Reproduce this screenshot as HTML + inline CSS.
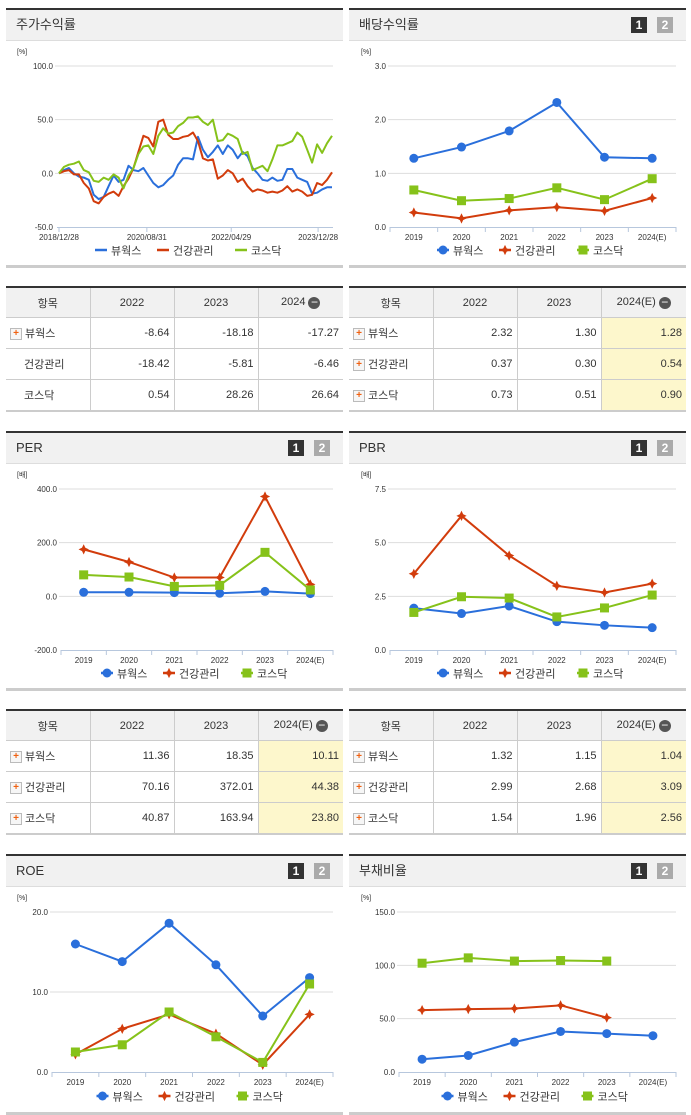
<!DOCTYPE html>
<html><head><meta charset="utf-8">
<style>
body{margin:0;width:691px;height:1115px;background:#fff;position:relative;overflow:hidden;font-family:"Liberation Sans","Noto Sans CJK KR",sans-serif;color:#333}
.panel{position:absolute;border-top:2px solid #333;box-sizing:border-box}
.phead{height:30px;background:#f1f1f1;border-bottom:1px solid #ddd;font-size:13px;line-height:30px;padding-left:10px;position:relative}
.pbot{position:absolute;left:0;right:0;height:3px;background:#ccc}
.b{position:absolute;top:7px;width:16px;height:16px;font-size:12px;font-weight:bold;color:#fff;text-align:center;line-height:16px}
table{position:absolute;border-collapse:collapse;border-top:2px solid #333;border-bottom:2px solid #ccc;font-size:11px;table-layout:fixed}
th{background:#f1f1f1;font-weight:normal;height:29px;padding:0;border-left:1px solid #ccc;border-bottom:1px solid #ccc}
td{height:30px;padding:0 4px 0 0;border-left:1px solid #ccc;border-bottom:1px solid #ccc;text-align:right}
th:first-child,td:first-child{border-left:none}
td:first-child{text-align:left;padding-left:4px}
td.y{background:#fdf7cc}
.plus{display:inline-block;width:10px;height:10px;border:1px solid #bbb;background:#f6f6f6;color:#f06010;font-size:10px;line-height:9px;text-align:center;font-weight:bold;vertical-align:middle;margin-right:3px}
.sp{display:inline-block;width:14px}
.minus{display:inline-block;width:12px;height:12px;border-radius:50%;background:#555;color:#fff;line-height:11px;text-align:center;font-size:12px;vertical-align:middle;margin-left:3px}
svg{position:absolute;left:0;top:0}
</style></head><body>

<div class="panel" style="left:6px;top:8px;width:337px;height:260px"><div class="phead">주가수익률</div><div class="pbot" style="top:255px"></div></div>
<div class="panel" style="left:349px;top:8px;width:337px;height:260px"><div class="phead">배당수익률<span class="b" style="left:282px;background:#333">1</span><span class="b" style="left:308px;background:#aaa">2</span></div><div class="pbot" style="top:255px"></div></div>

<div class="panel" style="left:6px;top:431px;width:337px;height:260px"><div class="phead">PER<span class="b" style="left:282px;background:#333">1</span><span class="b" style="left:308px;background:#aaa">2</span></div><div class="pbot" style="top:255px"></div></div>
<div class="panel" style="left:349px;top:431px;width:337px;height:260px"><div class="phead">PBR<span class="b" style="left:282px;background:#333">1</span><span class="b" style="left:308px;background:#aaa">2</span></div><div class="pbot" style="top:255px"></div></div>

<div class="panel" style="left:6px;top:854px;width:337px;height:261px"><div class="phead">ROE<span class="b" style="left:282px;background:#333">1</span><span class="b" style="left:308px;background:#aaa">2</span></div><div class="pbot" style="top:256px"></div></div>
<div class="panel" style="left:349px;top:854px;width:337px;height:261px"><div class="phead">부채비율<span class="b" style="left:282px;background:#333">1</span><span class="b" style="left:308px;background:#aaa">2</span></div><div class="pbot" style="top:256px"></div></div>

<table style="left:6px;top:286px;width:337px">
<colgroup><col style="width:84px"><col style="width:84px"><col style="width:84px"><col style="width:85px"></colgroup>
<tr><th>항목</th><th>2022</th><th>2023</th><th>2024<span class="minus">−</span></th></tr>
<tr><td><span class="plus">+</span>뷰웍스</td><td>-8.64</td><td>-18.18</td><td>-17.27</td></tr>
<tr><td><span class="sp"></span>건강관리</td><td>-18.42</td><td>-5.81</td><td>-6.46</td></tr>
<tr><td><span class="sp"></span>코스닥</td><td>0.54</td><td>28.26</td><td>26.64</td></tr>
</table>
<table style="left:349px;top:286px;width:337px">
<colgroup><col style="width:84px"><col style="width:84px"><col style="width:84px"><col style="width:85px"></colgroup>
<tr><th>항목</th><th>2022</th><th>2023</th><th>2024(E)<span class="minus">−</span></th></tr>
<tr><td><span class="plus">+</span>뷰웍스</td><td>2.32</td><td>1.30</td><td class="y">1.28</td></tr>
<tr><td><span class="plus">+</span>건강관리</td><td>0.37</td><td>0.30</td><td class="y">0.54</td></tr>
<tr><td><span class="plus">+</span>코스닥</td><td>0.73</td><td>0.51</td><td class="y">0.90</td></tr>
</table>
<table style="left:6px;top:709px;width:337px">
<colgroup><col style="width:84px"><col style="width:84px"><col style="width:84px"><col style="width:85px"></colgroup>
<tr><th>항목</th><th>2022</th><th>2023</th><th>2024(E)<span class="minus">−</span></th></tr>
<tr><td><span class="plus">+</span>뷰웍스</td><td>11.36</td><td>18.35</td><td class="y">10.11</td></tr>
<tr><td><span class="plus">+</span>건강관리</td><td>70.16</td><td>372.01</td><td class="y">44.38</td></tr>
<tr><td><span class="plus">+</span>코스닥</td><td>40.87</td><td>163.94</td><td class="y">23.80</td></tr>
</table>
<table style="left:349px;top:709px;width:337px">
<colgroup><col style="width:84px"><col style="width:84px"><col style="width:84px"><col style="width:85px"></colgroup>
<tr><th>항목</th><th>2022</th><th>2023</th><th>2024(E)<span class="minus">−</span></th></tr>
<tr><td><span class="plus">+</span>뷰웍스</td><td>1.32</td><td>1.15</td><td class="y">1.04</td></tr>
<tr><td><span class="plus">+</span>건강관리</td><td>2.99</td><td>2.68</td><td class="y">3.09</td></tr>
<tr><td><span class="plus">+</span>코스닥</td><td>1.54</td><td>1.96</td><td class="y">2.56</td></tr>
</table>

<svg id="cv" width="691" height="1115"></svg>

<script>
// ---- data ----
const years = ["2019","2020","2021","2022","2023","2024(E)"];
const seriesNames = ["뷰웍스","건강관리","코스닥"];
const stockBlue = [0,3,5,0,-3,-4,-6,-20,-24,-22,-12,-2,-8,-6,7,3,2,5,-2,-9,-13,-11,-6,-2,8,14,14,13,34,22,15,20,26,18,26,22,14,20,16,5,0,-6,-7,-4,-7,-6,4,4,-4,-6,-8,-19,-18,-15,-13,-13];
const stockRed = [0,2,3,-1,-1,-9,-14,-26,-28,-22,-19,-17,-21,-12,-5,5,20,35,33,25,48,50,36,32,32,34,35,38,30,14,12,13,-5,-2,3,0,-8,-5,-12,-17,-15,-16,-18,-17,-18,-16,-12,-17,-15,-17,-21,-20,-9,-11,-6,1];
const stockGreen = [0,6,8,9,11,3,1,-7,-8,-4,-6,-1,-4,-14,-2,5,18,25,26,18,35,42,37,38,44,47,52,52,53,48,45,50,30,31,37,35,32,18,20,3,5,7,2,13,26,26,28,30,38,34,22,10,27,19,28,35];
const stockTickLabels = ["2018/12/28","2020/08/31","2022/04/29","2023/12/28"];
const stockTickIdx = [0,17.7,34.7,52.2];
const divBlue=[1.28,1.49,1.79,2.32,1.30,1.28], divRed=[0.27,0.16,0.31,0.37,0.30,0.54], divGreen=[0.69,0.49,0.53,0.73,0.51,0.90];
const perBlue=[15,15,14,11.36,18.35,10.11], perRed=[175,128,70,70.16,372.01,44.38], perGreen=[80,72,37,40.87,163.94,23.80];
const pbrBlue=[1.95,1.70,2.05,1.32,1.15,1.04], pbrRed=[3.55,6.25,4.40,2.99,2.68,3.09], pbrGreen=[1.75,2.48,2.42,1.54,1.96,2.56];
const roeBlue=[16,13.8,18.6,13.4,7,11.8], roeRed=[2.2,5.4,7.2,4.8,0.9,7.2], roeGreen=[2.5,3.4,7.5,4.4,1.2,11];
const debtBlue=[12,15.5,28,38,36,34], debtRed=[58,59,59.5,62.5,51,null], debtGreen=[102,107,104,104.5,104,null];

const NS="http://www.w3.org/2000/svg", cv=document.getElementById('cv');
const COL=["#2a6fdb","#d23c0c","#86c21a"];
function mk(tag,attrs,parent){const e=document.createElementNS(NS,tag);for(const k in attrs)e.setAttribute(k,attrs[k]);(parent||cv).appendChild(e);return e;}
function txt(s,x,y,size,anchor,fill){const t=mk('text',{x:x,y:y,'font-size':size,'text-anchor':anchor||'start',fill:fill||'#333','font-family':'"Liberation Sans","Noto Sans CJK KR",sans-serif'});t.textContent=s;return t;}
function marker(k,x,y,g){
  if(k===0){const m=mk('circle',{cx:x,cy:y,r:4.5,fill:COL[0]},g);}
  else if(k===1){const m=mk('path',{d:`M${x} ${y-4}L${x+1.3} ${y-1.3}L${x+4} ${y}L${x+1.3} ${y+1.3}L${x} ${y+4}L${x-1.3} ${y+1.3}L${x-4} ${y}L${x-1.3} ${y-1.3}Z`,fill:COL[1],stroke:COL[1],'stroke-width':1},g);}
  else {const m=mk('rect',{x:x-4.5,y:y-4.5,width:9,height:9,fill:COL[2]},g);}
}
function axes(o){
  const ys=v=>o.yTop+(o.max-v)/(o.max-o.min)*(o.yBot-o.yTop);
  const g=mk('g',{});
  txt(o.unit,o.ux,o.yTop-12,7);
  for(let v=o.min;v<=o.max+1e-9;v+=o.step){
    const y=ys(v);
    if(v!==o.min)mk('line',{x1:o.x0-2,x2:o.x1,y1:y,y2:y,stroke:'#ddd','stroke-width':1},g);
    const t=txt(v.toFixed(1),o.x0-4,y+3,8,'end');
  }
  mk('line',{x1:o.x0,x2:o.x1,y1:o.yBot+0.5,y2:o.yBot+0.5,stroke:'#b7c7dd','stroke-width':1},g);
  return ys;
}
function legend(cx,y,lineOnly){
  const g=mk('g',{});
  const widths=[46,62,46];let x=cx-((lineOnly?170:172)/2);
  seriesNames.forEach((n,k)=>{
    const e=mk('g',{},g);
    mk('line',{x1:x,x2:x+12,y1:y,y2:y,stroke:COL[k],'stroke-width':2.5},e);
    if(!lineOnly)marker(k,x+6,y,e);
    txt(n,x+16,y+4.5,11,'start','#333');
    x+=16+widths[k];
  });
}
function catChart(o,data){
  const ys=axes(o);
  const band=(o.x1-o.x0)/years.length;
  const xs=i=>o.x0+band*(i+0.5);
  for(let i=0;i<=years.length;i++){const x=o.x0+band*i;mk('line',{x1:x,x2:x,y1:o.yBot,y2:o.yBot+5,stroke:'#b7c7dd'});}
  years.forEach((y,i)=>{const t=txt(y,xs(i),o.yBot+13,8,'middle');});
  data.forEach((arr,k)=>{
    const g=mk('g',{});
    let d='';arr.forEach((v,i)=>{if(v==null)return;d+=(d?'L':'M')+xs(i)+' '+ys(v);});
    const p=mk('path',{d:d,fill:'none',stroke:COL[k],'stroke-width':2},g);
    arr.forEach((v,i)=>{if(v!=null)marker(k,xs(i),ys(v),g);});
  });
  legend((o.x0+o.x1)/2-10,o.legY,false);
}
(function(){
  const o={name:'stock',min:-50,max:100,step:50,yTop:66,yBot:227,x0:57,x1:333,unit:'[%]',ux:17};
  const ys=axes(o);
  const n=stockBlue.length-1, xl=59, xr=332;
  const xs=i=>xl+(xr-xl)*i/n;
  stockTickIdx.forEach((ti,j)=>{const x=xs(ti);mk('line',{x1:x,x2:x,y1:o.yBot,y2:o.yBot+5,stroke:'#b7c7dd'});
    const t=txt(stockTickLabels[j],x,o.yBot+13,8,'middle');});
  [stockBlue,stockRed,stockGreen].forEach((arr,k)=>{
    const d=arr.map((v,i)=>(i?'L':'M')+xs(i).toFixed(1)+' '+ys(v).toFixed(1)).join('');
    const p=mk('path',{d:d,fill:'none',stroke:COL[k],'stroke-width':2,'stroke-linejoin':'round'});
    
  });
  legend(180,250,true);
})();
catChart({name:'dividend',min:0,max:3,step:1,yTop:66,yBot:227,x0:390,x1:676,unit:'[%]',ux:361,legY:250},[divBlue,divRed,divGreen]);
catChart({name:'per',min:-200,max:400,step:200,yTop:489,yBot:650,x0:61,x1:333,unit:'[배]',ux:17,legY:673},[perBlue,perRed,perGreen]);
catChart({name:'pbr',min:0,max:7.5,step:2.5,yTop:489,yBot:650,x0:390,x1:676,unit:'[배]',ux:361,legY:673},[pbrBlue,pbrRed,pbrGreen]);
catChart({name:'roe',min:0,max:20,step:10,yTop:912,yBot:1072,x0:52,x1:333,unit:'[%]',ux:17,legY:1096},[roeBlue,roeRed,roeGreen]);
catChart({name:'debt',min:0,max:150,step:50,yTop:912,yBot:1072,x0:399,x1:676,unit:'[%]',ux:361,legY:1096},[debtBlue,debtRed,debtGreen]);
</script>
</body></html>
